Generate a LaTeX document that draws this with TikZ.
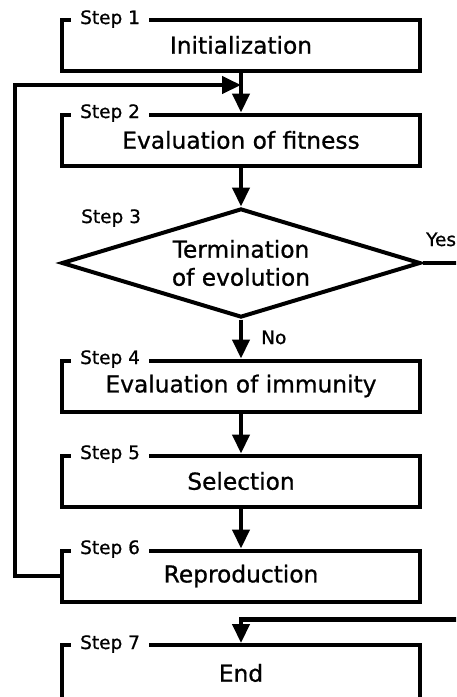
\documentclass[tikz,border=0pt]{standalone}
\usepackage{fontspec}
\setmainfont{DejaVu Sans}[FakeBold=0.8]
\usetikzlibrary{shapes.geometric,arrows.meta}
\begin{document}
\begin{tikzpicture}[x=1pt,y=-1pt,
  every node/.style={font=\fontsize{23.3}{28}\selectfont},
  box/.style={draw,line width=4pt,minimum width=358pt,minimum height=51pt,inner sep=0pt},
  decision/.style={draw,diamond,line width=4pt,aspect=3.3,minimum width=359pt,minimum height=109pt,inner sep=0pt,align=center},
  steplbl/.style={fill=white,inner xsep=9pt,inner ysep=1pt,font=\fontsize{18.5}{22}\selectfont,anchor=base west},
  lbl/.style={font=\fontsize{18.5}{22}\selectfont,anchor=base west,inner sep=0pt},
  flow/.style={line width=4.5pt,-{Triangle[length=19pt,width=17pt]}},
  plain/.style={line width=4.5pt}
]
\useasboundingbox (0,0) rectangle (456,697);
\clip (0,0) rectangle (456,697);
\fill[white] (0,0) rectangle (456,697);

\node[box] (b1) at (241,45) {Initialization};
\node[box] (b2) at (241,140) {Evaluation of fitness};
\node[decision] (d) at (241,263) {Termination\\of evolution};
\node[box] (b4) at (241,386) {Evaluation of immunity};
\node[box] (b5) at (241,481) {Selection};
\node[box] (b6) at (241,576) {Reproduction};
\node[box,minimum height=56pt] (b7) at (241,673) {End};

\node[steplbl] (s1) at (71,24) {Step 1};
\node[steplbl] (s2) at (71,118) {Step 2};
\node[lbl] (s3) at (81,223) {Step 3};
\node[steplbl] (s4) at (71,364) {Step 4};
\node[steplbl] (s5) at (71,459) {Step 5};
\node[steplbl] (s6) at (71,554) {Step 6};
\node[steplbl] (s7) at (71,649) {Step 7};

\node[lbl] (no) at (261,344) {No};
\node[lbl] (yes) at (426,246) {Yes};

\coordinate (j1) at (241,85);
\coordinate (fbB) at (15,576);
\coordinate (fbT) at (15,85);
\coordinate (yesR) at (470,263);
\coordinate (yesR2) at (470,619.5);
\coordinate (j7) at (241,619.5);

\draw[flow] (b1.south) -- (b2.north);
\draw[flow] (b2.south) -- (d.north);
\draw[flow] (d.south) -- (b4.north);
\draw[flow] (b4.south) -- (b5.north);
\draw[flow] (b5.south) -- (b6.north);
\draw[flow] (b6.west) -- (fbB) -- (fbT) -- (j1);
\draw[plain] (d.east) -- (yesR);
\draw[flow] (yesR2) -- (j7) -- (b7.north);
\end{tikzpicture}
\end{document}
